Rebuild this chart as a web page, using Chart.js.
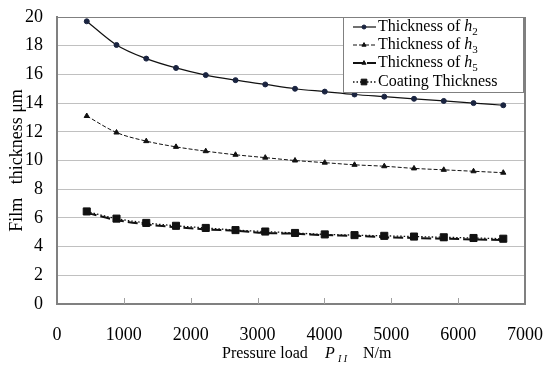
<!DOCTYPE html>
<html lang="en">
<head>
  <meta charset="UTF-8" />
  <title>Film thickness vs pressure load</title>
  <script src="https://cdn.jsdelivr.net/npm/chart.js"></script>
  <style>
    body { margin: 0; background: #fff; }
    .wrap { position: relative; width: 543px; height: 367px; }
  </style>
</head>
<body>
  <div class="wrap"><canvas id="chart" width="543" height="367"></canvas></div>

  <script>
    // data
    const loads = [445, 890, 1335, 1780, 2225, 2670, 3115, 3560, 4005, 4450, 4895, 5340, 5785, 6230, 6675];
    const h2 = [19.7, 18.05, 17.1, 16.45, 15.95, 15.6, 15.3, 15.0, 14.8, 14.6, 14.45, 14.3, 14.15, 14.0, 13.85];
    const h3 = [13.1, 11.95, 11.35, 10.95, 10.65, 10.4, 10.2, 10.0, 9.85, 9.7, 9.6, 9.45, 9.35, 9.25, 9.15];
    const h5 = [6.35, 5.85, 5.55, 5.35, 5.2, 5.1, 4.95, 4.9, 4.8, 4.75, 4.65, 4.6, 4.55, 4.5, 4.45];
    const coating = [6.45, 5.95, 5.65, 5.45, 5.3, 5.15, 5.05, 4.95, 4.85, 4.8, 4.75, 4.7, 4.65, 4.6, 4.55];
    const xTicks = [0, 1000, 2000, 3000, 4000, 5000, 6000, 7000];
    const yTicks = [0, 2, 4, 6, 8, 10, 12, 14, 16, 18, 20];

    const serif = "'Liberation Serif', 'Times New Roman', serif";
    const pts = arr => arr.map((v, i) => ({ x: loads[i], y: v }));

    const series = [
      { label: 'h', sub: '2', data: h2, dash: [], width: 1.2, style: 'circle', r: 2.5, color: '#111', fill: '#1a2440' },
      { label: 'h', sub: '3', data: h3, dash: [4, 2], width: 1, style: 'triangle', r: 3, color: '#111', fill: '#111' },
      { label: 'h', sub: '5', data: h5, dash: [10, 4], width: 2, style: 'triangle', r: 3, color: '#111', fill: '#111' },
      { label: 'Coating Thickness', data: coating, dash: [1.5, 2], width: 1.3, style: 'rect', r: 5, color: '#111', fill: '#111' }
    ];

    // plot box, inward x ticks, legend and x title
    const decor = {
      id: 'decor',
      afterDraw(chart) {
        const ctx = chart.ctx;
        const a = chart.chartArea;
        const xs = chart.scales.x;
        ctx.save();
        ctx.strokeStyle = '#808080';
        ctx.lineWidth = 1;
        ctx.beginPath();
        ctx.moveTo(a.left, a.top + 0.5);
        ctx.lineTo(a.right, a.top + 0.5);
        ctx.stroke();
        ctx.lineWidth = 2;
        ctx.beginPath();
        ctx.moveTo(a.right, a.top);
        ctx.lineTo(a.right, a.bottom);
        ctx.stroke();
        ctx.lineWidth = 1;
        ctx.strokeStyle = '#a0a0a0';
        xTicks.slice(1, -1).forEach(t => {
          const px = Math.round(xs.getPixelForValue(t)) + 0.5;
          ctx.beginPath();
          ctx.moveTo(px, a.bottom);
          ctx.lineTo(px, a.bottom - 6);
          ctx.stroke();
        });

        // legend
        const lx = 343, ly = a.top, lw = 180, lh = 75;
        ctx.fillStyle = '#fff';
        ctx.fillRect(lx, ly, lw, lh);
        ctx.strokeStyle = '#808080';
        ctx.lineWidth = 1;
        ctx.strokeRect(lx + 0.5, ly + 0.5, lw, lh);
        const rows = [27, 45, 63, 82];
        series.forEach((s, i) => {
          const y = rows[i];
          ctx.strokeStyle = s.color;
          ctx.lineWidth = s.width;
          ctx.setLineDash(s.dash);
          ctx.beginPath();
          ctx.moveTo(353, y);
          ctx.lineTo(376, y);
          ctx.stroke();
          ctx.setLineDash([]);
          ctx.fillStyle = s.fill;
          ctx.strokeStyle = s.fill;
          ctx.lineWidth = 1;
          Chart.helpers.drawPoint(ctx, { pointStyle: s.style, radius: s.r * 0.8, borderWidth: 1 }, 364, y);
          ctx.fillStyle = '#000';
          ctx.textBaseline = 'middle';
          ctx.font = '16px ' + serif;
          let tx = 378;
          if (s.sub) {
            const t = 'Thickness of ';
            ctx.fillText(t, tx, y);
            tx += ctx.measureText(t).width;
            ctx.font = 'italic 16px ' + serif;
            ctx.fillText(s.label, tx, y);
            tx += ctx.measureText(s.label).width;
            ctx.font = '11px ' + serif;
            ctx.fillText(s.sub, tx, y + 5);
          } else {
            ctx.fillText(s.label, tx, y);
          }
        });

        // x axis title
        const ty = 354;
        ctx.fillStyle = '#000';
        ctx.textBaseline = 'middle';
        ctx.font = '16px ' + serif;
        ctx.fillText('Pressure load', 222, ty);
        ctx.font = 'italic 16px ' + serif;
        ctx.fillText('P', 325, ty);
        ctx.font = 'italic 10px ' + serif;
        ctx.fillText('I I', 338, ty + 5);
        ctx.font = '16px ' + serif;
        ctx.fillText('N/m', 363, ty);
        ctx.restore();
      }
    };

    new Chart(document.getElementById('chart'), {
      type: 'line',
      data: {
        datasets: series.map((s, i) => ({
          label: s.sub ? 'Thickness of h' + s.sub : s.label,
          data: pts(s.data),
          borderColor: s.color,
          backgroundColor: s.fill,
          borderWidth: s.width,
          borderDash: s.dash,
          pointStyle: s.style,
          pointRadius: s.r,
          pointBorderWidth: 1,
          pointBackgroundColor: s.fill,
          pointBorderColor: s.fill,
          cubicInterpolationMode: 'monotone',
          order: i === 3 ? 0 : i + 1
        }))
      },
      options: {
        responsive: false,
        animation: false,
        layout: { padding: { top: 17, right: 18, left: 6, bottom: 0 } },
        plugins: { legend: { display: false }, tooltip: { enabled: false } },
        scales: {
          x: {
            type: 'linear',
            min: 0, max: 7000,
            afterBuildTicks: s => { s.ticks = xTicks.map(v => ({ value: v })); },
            afterFit: s => { s.height = 63; s.paddingLeft = 0; s.paddingRight = 0; },
            grid: { display: false, drawTicks: false },
            border: { display: true, color: '#808080', width: 2 },
            ticks: { color: '#000', font: { family: serif, size: 18 }, padding: 20, maxRotation: 0, callback: v => String(v) }
          },
          y: {
            min: 0, max: 20,
            afterBuildTicks: s => { s.ticks = yTicks.map(v => ({ value: v })); },
            afterFit: s => { s.width = 51; s.paddingTop = 0; s.paddingBottom = 0; },
            grid: { color: '#c0c0c0', drawTicks: false },
            border: { display: true, color: '#808080', width: 2 },
            ticks: { color: '#000', font: { family: serif, size: 18 }, padding: 14, callback: v => String(v) },
            title: { display: true, text: 'Film   thickness μm', color: '#000', font: { family: serif, size: 18 }, padding: 0 }
          }
        }
      },
      plugins: [decor]
    });
  </script>
</body>
</html>
